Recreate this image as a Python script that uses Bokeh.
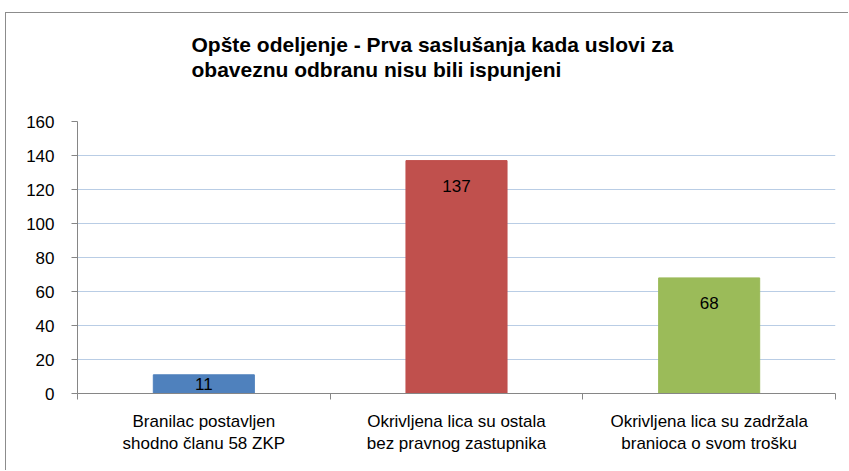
from bokeh.plotting import figure
from bokeh.models import (ColumnDataSource, Range1d, FixedTicker, Title)
from bokeh.core.properties import value
from bokeh.embed import file_html
from bokeh.resources import INLINE

title_lines = ["Opšte odeljenje - Prva saslušanja kada uslovi za",
               "obaveznu odbranu nisu bili ispunjeni"]
categories = ["Branilac postavljen\nshodno članu 58 ZKP",
              "Okrivljena lica su ostala\nbez pravnog zastupnika",
              "Okrivljena lica su zadržala\nbranioca o svom trošku"]
values = [11, 137, 68]
colors = ["#4f81bd", "#c0504d", "#9bbb59"]
y_ticks = [0, 20, 40, 60, 80, 100, 120, 140, 160]

n = len(categories)
centers = [i + 0.5 for i in range(n)]
edges = list(range(n + 1))
label_y = [max(v - 15, v / 2) for v in values]

src = ColumnDataSource(dict(x=centers, val=values, color=colors,
                            ly=label_y, lbl=[str(v) for v in values]))

FONT = "Liberation Sans"
AXIS_COL = "#868686"

p = figure(x_range=Range1d(0, n), y_range=Range1d(0, 160),
           width=843, height=458, output_backend="svg", toolbar_location=None,
           min_border_left=71, min_border_right=14,
           min_border_bottom=78, min_border_top=108)
p.styles = {"margin-left": "5px", "margin-top": "12px",
            "border-left": "1px solid #8c8c8c", "border-top": "1px solid #8c8c8c"}
p.outline_line_color = None
p.background_fill_color = "white"
p.border_fill_color = "white"

# spacer between the title and the plot area
p.add_layout(Title(text=" ", text_font=FONT, text_font_size="20px", standoff=0), "above")

p.title = Title(text="\n".join(title_lines), align="left", offset=114,
                text_font=FONT, text_font_size="21px", text_font_style="bold",
                text_color="black", text_line_height=1.1, standoff=33)

p.vbar(x="x", top="val", width=0.4, color="color", source=src)
p.text(x="x", y="ly", text="lbl", source=src, text_align="center",
       text_baseline="middle", text_font=value(FONT), text_font_size="17px",
       text_color="black")

# y axis
yax = p.yaxis[0]
yax.ticker = FixedTicker(ticks=y_ticks)
yax.axis_line_color = AXIS_COL
yax.major_tick_line_color = AXIS_COL
yax.major_tick_out = 6
yax.major_tick_in = 0
yax.minor_tick_line_color = None
yax.major_label_text_font = FONT
yax.major_label_text_font_size = "17px"
yax.major_label_text_color = "black"
yax.major_label_standoff = 17

p.ygrid.ticker = FixedTicker(ticks=y_ticks)
p.ygrid.grid_line_color = "#b9cde5"
p.ygrid.grid_line_width = 1
p.xgrid.visible = False

# x axis: labels at category centres, tick marks at category boundaries
xax = p.xaxis[0]
xax.ticker = FixedTicker(ticks=centers, minor_ticks=edges)
xax.major_label_overrides = {c: cat for c, cat in zip(centers, categories)}
xax.major_tick_line_color = None
xax.major_tick_out = 6
xax.major_tick_in = 0
xax.minor_tick_out = 6
xax.minor_tick_in = 0
xax.minor_tick_line_color = AXIS_COL
xax.axis_line_color = AXIS_COL
xax.major_label_text_font = FONT
xax.major_label_text_font_size = "17px"
xax.major_label_text_color = "black"
xax.major_label_standoff = 12

open("out.html", "w").write(file_html(p, INLINE))
